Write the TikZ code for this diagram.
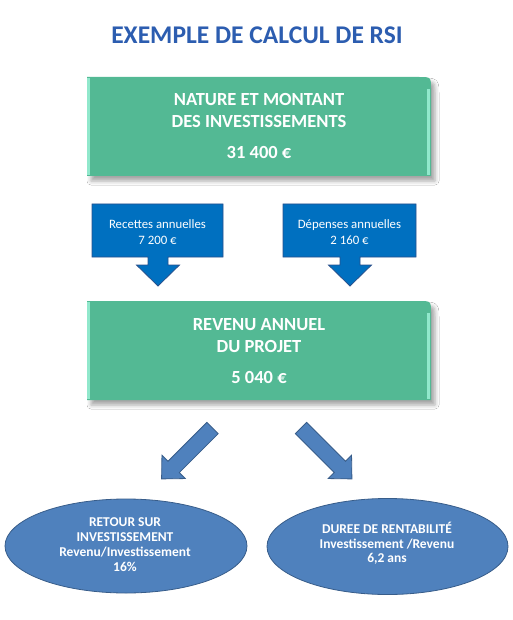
\documentclass[tikz,border=0pt]{standalone}
\usepackage{fontspec}
\setmainfont{Carlito}[Numbers=Lining]
\usetikzlibrary{shadows.blur}
\definecolor{gr}{RGB}{83,185,148}
\definecolor{grlight}{RGB}{145,232,204}
\definecolor{cb}{RGB}{0,112,192}
\definecolor{cbd}{RGB}{40,80,140}
\definecolor{ab}{RGB}{79,129,189}
\definecolor{abd}{RGB}{56,93,138}
\definecolor{tb}{RGB}{44,93,176}
\begin{document}
\begin{tikzpicture}[x=1pt,y=-1pt,
  title/.style={font=\fontsize{25.5}{28}\selectfont\bfseries, text=tb, inner sep=0, anchor=base},
  gtxt/.style={font=\fontsize{18.5}{20}\selectfont\bfseries, text=white, anchor=base, inner sep=0},
  ctxt/.style={font=\fontsize{12.8}{14}\selectfont, text=white, anchor=base, inner sep=0},
  etxt/.style={font=\fontsize{13.5}{15}\selectfont\bfseries, text=white, anchor=base, inner sep=0},
  gframe/.style={minimum width=344pt, minimum height=99pt, inner sep=0},
  callout/.style={fill=cb, draw=cbd, line width=0.8pt},
  barrow/.style={fill=ab, draw=abd, line width=0.8pt},
  gboxpic/.pic={
    \fill[gr, blur shadow={shadow xshift=4pt, shadow yshift=-5pt, shadow opacity=35, shadow blur radius=4pt}]
      (0,99) -- (0,0) -- (332,0) .. controls (344,0) .. (344,12) -- (344,99) -- cycle;
    \fill[grlight] (0,1) rectangle (3,98);
    \fill[grlight] (340,12) rectangle (343,98);
  }]
\useasboundingbox (0,0) rectangle (512,620);
\fill[white] (0,0) rectangle (512,620);

% title
\node[title] (ttl) at (257,44) {EXEMPLE DE CALCUL DE RSI};

% green box 1
\pic at (87,77) {gboxpic};
\node[gframe] (g1) at (259,126.5) {};
\node[gtxt] (g1a) at (259,106) {NATURE ET MONTANT};
\node[gtxt] (g1b) at (259,128) {DES INVESTISSEMENTS};
\node[gtxt] (g1c) at (259,159) {31 400 €};

% callouts
\draw[callout] (92,204) -- (223,204) -- (223,257) -- (168,257) -- (168,265) -- (179.5,265)
  -- (158,286) -- (136.5,265) -- (148,265) -- (148,257) -- (92,257) -- cycle;
\node[ctxt] (c1a) at (157.5,229) {Recettes annuelles};
\node[ctxt] (c1b) at (157.5,244) {7 200 €};

\draw[callout] (283,204) -- (416,204) -- (416,257) -- (360,257) -- (360,265) -- (371.5,265)
  -- (350,286) -- (328.5,265) -- (340,265) -- (340,257) -- (283,257) -- cycle;
\node[ctxt] (c2a) at (349.5,229) {Dépenses annuelles};
\node[ctxt] (c2b) at (349.5,244) {2 160 €};

% green box 2
\pic at (87,301) {gboxpic};
\node[gframe] (g2) at (259,350.5) {};
\node[gtxt] (g2a) at (259,330) {REVENU ANNUEL};
\node[gtxt] (g2b) at (259,352) {DU PROJET};
\node[gtxt] (g2c) at (259,383) {5 040 €};

% diagonal arrows
\begin{scope}[shift={(212.5,428)}, rotate=-135]
  \draw[barrow] (0,-8) -- (55,-8) -- (55,-16.5) -- (72,0) -- (55,16.5) -- (55,8) -- (0,8) -- cycle;
\end{scope}
\begin{scope}[shift={(301,428)}, rotate=-45]
  \draw[barrow] (0,-8) -- (55,-8) -- (55,-16.5) -- (72,0) -- (55,16.5) -- (55,8) -- (0,8) -- cycle;
\end{scope}

% ellipses
\draw[barrow] (126,546) ellipse [x radius=121, y radius=47];
\draw[barrow] (387.5,546.5) ellipse [x radius=120.5, y radius=48];
\coordinate (e1) at (126,546);
\coordinate (e2) at (387.5,546.5);
\node[etxt] (e1a) at (125,526) {RETOUR SUR};
\node[etxt] (e1b) at (125,541) {INVESTISSEMENT};
\node[etxt] (e1c) at (125,556) {Revenu/Investissement};
\node[etxt] (e1d) at (125,571) {16\%};
\node[etxt] (e2a) at (387,533) {DUREE DE RENTABILITÉ};
\node[etxt] (e2b) at (387,548) {Investissement /Revenu};
\node[etxt] (e2c) at (387,562) {6,2 ans};
\end{tikzpicture}
\end{document}
